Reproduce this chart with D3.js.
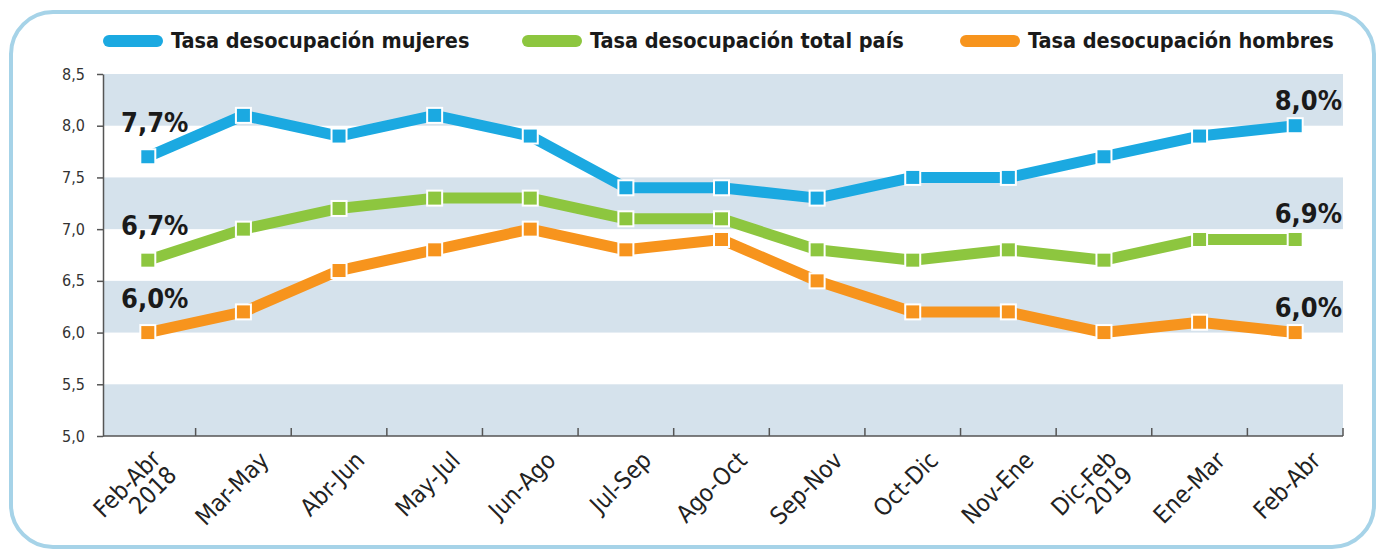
<!DOCTYPE html>
<html>
<head>
<meta charset="utf-8">
<script src="https://cdn.jsdelivr.net/npm/d3@7"></script>
<style>
  body { margin: 0; background: #fff; }
  svg { display: block; font-family: "DejaVu Sans Condensed", "DejaVu Sans", sans-serif; font-stretch: condensed; }
</style>
</head>
<body>
<script>

var categories = ['Feb-Abr|2018', 'Mar-May', 'Abr-Jun', 'May-Jul', 'Jun-Ago', 'Jul-Sep', 'Ago-Oct',
                  'Sep-Nov', 'Oct-Dic', 'Nov-Ene', 'Dic-Feb|2019', 'Ene-Mar', 'Feb-Abr'];

var mujeres = [7.7, 8.1, 7.9, 8.1, 7.9, 7.4, 7.4, 7.3, 7.5, 7.5, 7.7, 7.9, 8.0];
var total   = [6.7, 7.0, 7.2, 7.3, 7.3, 7.1, 7.1, 6.8, 6.7, 6.8, 6.7, 6.9, 6.9];
var hombres = [6.0, 6.2, 6.6, 6.8, 7.0, 6.8, 6.9, 6.5, 6.2, 6.2, 6.0, 6.1, 6.0];

var seriesNames = ['Tasa desocupación mujeres', 'Tasa desocupación total país', 'Tasa desocupación hombres'];
var seriesColors = ['#1ba9e1', '#8dc63f', '#f7941d'];

var yTicks = [5.0, 5.5, 6.0, 6.5, 7.0, 7.5, 8.0, 8.5];

var W = 1383, H = 552;
var svg = d3.select('body').append('svg').attr('width', W).attr('height', H);

// frame
svg.append('rect')
   .attr('x', 11).attr('y', 12)
   .attr('width', 1363).attr('height', 535)
   .attr('rx', 42).attr('ry', 42)
   .attr('fill', 'none')
   .attr('stroke', '#a6d3e8')
   .attr('stroke-width', 4);

var x = d3.scaleBand().domain(d3.range(categories.length)).range([100, 1343]);
var y = d3.scaleLinear().domain([5.0, 8.5]).range([436, 74]);

// bands
var bands = [[5.0, 5.5], [6.0, 6.5], [7.0, 7.5], [8.0, 8.5]];
svg.selectAll('rect.band')
   .data(bands)
   .enter()
   .append('rect')
   .attr('class', 'band')
   .attr('x', 103)
   .attr('width', 1343 - 103)
   .attr('y', function (d) { return y(d[1]); })
   .attr('height', function (d) { return y(d[0]) - y(d[1]); })
   .attr('fill', '#d5e2ec');

// left axis
var yAxis = svg.append('g')
   .attr('transform', 'translate(103,0)')
   .call(d3.axisLeft(y).tickValues(yTicks).tickSize(6).tickSizeOuter(0)
          .tickFormat(function (d) { return d3.format('.1f')(d).replace('.', ','); }));
yAxis.select('.domain').attr('stroke', '#555').attr('stroke-width', 1.5);
yAxis.selectAll('.tick line').attr('stroke', '#555').attr('stroke-width', 1.5);
yAxis.selectAll('.tick text')
   .attr('x', -18)
   .attr('fill', '#333')
   .style('font-family', '"DejaVu Sans Condensed", sans-serif')
   .style('font-size', '16px');

// bottom axis line + ticks at band edges
svg.append('line')
   .attr('x1', 103).attr('x2', 1343)
   .attr('y1', 436).attr('y2', 436)
   .attr('stroke', '#555').attr('stroke-width', 1.5);
svg.selectAll('line.xtick')
   .data(d3.range(1, categories.length + 1))
   .enter()
   .append('line')
   .attr('class', 'xtick')
   .attr('x1', function (i) { return 100 + i * x.step(); })
   .attr('x2', function (i) { return 100 + i * x.step(); })
   .attr('y1', 436).attr('y2', 428)
   .attr('stroke', '#555').attr('stroke-width', 1.5);

// x labels
var xl = svg.selectAll('text.xl')
   .data(categories)
   .enter()
   .append('text')
   .attr('class', 'xl')
   .attr('transform', function (d, i) {
      return 'translate(' + (x(i) + x.bandwidth() / 2 + 15) + ',450) rotate(-45)';
   })
   .attr('text-anchor', 'end')
   .attr('fill', '#222')
   .style('font-family', '"DejaVu Sans Condensed", sans-serif')
   .style('font-size', '24px');
xl.each(function (d) {
   var parts = d.split('|');
   var t = d3.select(this);
   parts.forEach(function (p, k) {
      t.append('tspan').attr('x', 0).attr('dy', k === 0 ? '0.7em' : '0.95em').text(p);
   });
   if (parts.length > 1) t.attr('transform', t.attr('transform') + ' translate(-8,-10)');
});

// lines
var allSeries = [mujeres, total, hombres];
var line = d3.line()
   .x(function (d, i) { return x(i) + x.bandwidth() / 2; })
   .y(function (d) { return y(d); });

allSeries.forEach(function (s, k) {
   svg.append('path')
      .datum(s)
      .attr('d', line)
      .attr('fill', 'none')
      .attr('stroke', seriesColors[k])
      .attr('stroke-width', 11)
      .attr('stroke-linejoin', 'round');
});
allSeries.forEach(function (s, k) {
   svg.selectAll(null)
      .data(s)
      .enter()
      .append('rect')
      .attr('x', function (d, i) { return x(i) + x.bandwidth() / 2 - 7.5; })
      .attr('y', function (d) { return y(d) - 7.5; })
      .attr('width', 15).attr('height', 15)
      .attr('fill', seriesColors[k])
      .attr('stroke', '#fff')
      .attr('stroke-width', 2);
});

// value labels at ends
var fmt = function (v) { return d3.format('.1f')(v).replace('.', ',') + '%'; };
allSeries.forEach(function (s, k) {
   var last = s.length - 1;
   svg.append('text')
      .attr('x', 121).attr('y', y(s[0]) - 25)
      .attr('font-weight', 'bold')
      .attr('font-size', 27)
      .style('font-family', '"DejaVu Sans", sans-serif')
      .attr('fill', '#1a1a1a')
      .text(fmt(s[0]));
   svg.append('text')
      .attr('x', 1342).attr('y', y(s[last]) - 16)
      .attr('text-anchor', 'end')
      .attr('font-weight', 'bold')
      .attr('font-size', 27)
      .style('font-family', '"DejaVu Sans", sans-serif')
      .attr('fill', '#1a1a1a')
      .text(fmt(s[last]));
});

// legend
var legendX = [103, 522, 960];
seriesNames.forEach(function (n, k) {
   var g = svg.append('g').attr('transform', 'translate(' + legendX[k] + ',41)');
   g.append('rect')
      .attr('x', 0).attr('y', -6)
      .attr('width', 60).attr('height', 12)
      .attr('rx', 6)
      .attr('fill', seriesColors[k]);
   g.append('text')
      .attr('x', 68).attr('y', 7)
      .attr('font-weight', 'bold')
      .attr('font-size', 21.5)
      .attr('fill', '#1a1a1a')
      .text(n);
});

</script>
</body>
</html>
